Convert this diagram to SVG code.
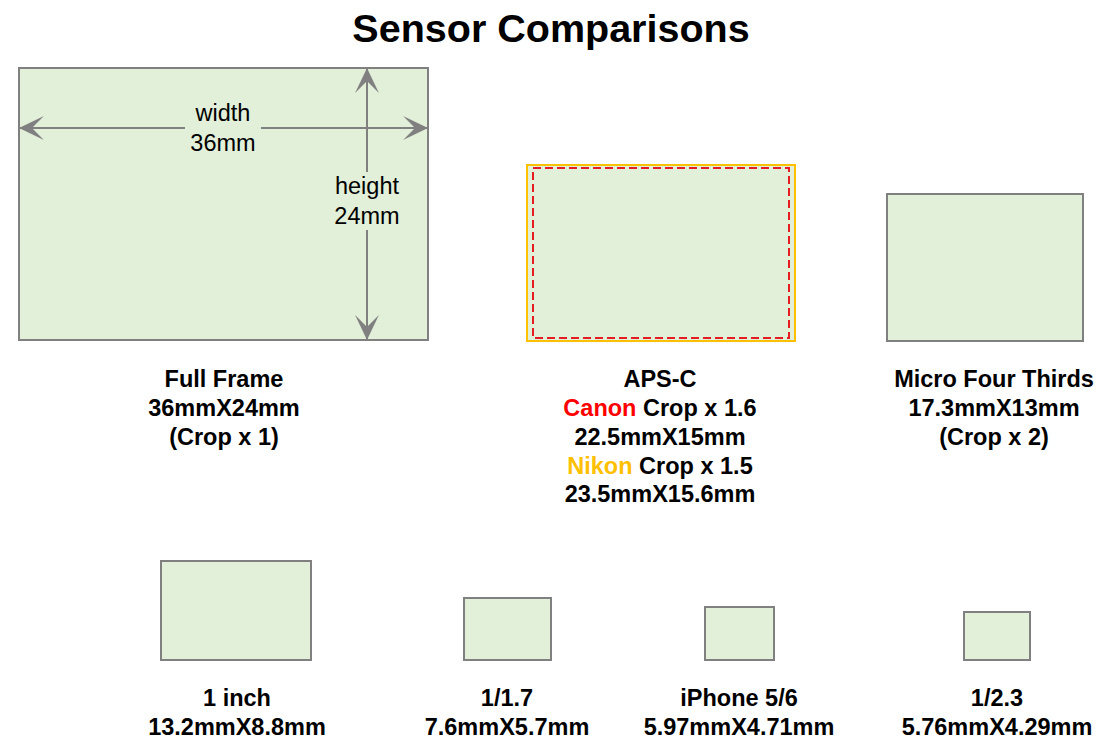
<svg xmlns="http://www.w3.org/2000/svg" width="1110" height="756" viewBox="0 0 1110 756">
<style>
.sensor{fill:#e2efd9;stroke:#808080;stroke-width:2}
.lbl{font-family:"Liberation Sans",Arial,sans-serif;font-size:23.5px;font-weight:bold;fill:#000;text-anchor:middle}
.dim{font-family:"Liberation Sans",Arial,sans-serif;font-size:23.5px;fill:#000;text-anchor:middle}
.title{font-family:"Liberation Sans",Arial,sans-serif;font-size:39.5px;font-weight:bold;fill:#000;text-anchor:middle}
.conn{stroke:#808080;stroke-width:2;fill:none}
</style>
<defs>
<marker id="ah" markerUnits="userSpaceOnUse" markerWidth="26" markerHeight="26" viewBox="0 0 24 24" refX="23" refY="12" orient="auto-start-reverse">
<path d="M23,12 L0,1 L11,12 L0,23 Z" fill="#808080"/>
</marker>
</defs>
<rect width="1110" height="756" fill="#ffffff"/>
<text class="title" x="551" y="42">Sensor Comparisons</text>

<g id="full-frame">
<rect class="sensor" x="19" y="68" width="409" height="272"/>
</g>

<g id="aps-c">
<rect x="527" y="165" width="268" height="176" fill="#e2efd9" stroke="#ffc000" stroke-width="2"/>
<rect x="533" y="168" width="256" height="170" fill="none" stroke="#e51c23" stroke-width="2" stroke-dasharray="8,4"/>
</g>

<g id="micro-four-thirds">
<rect class="sensor" x="887" y="194" width="196" height="147"/>
</g>

<g id="one-inch">
<rect class="sensor" x="161" y="561" width="150" height="99"/>
</g>
<g id="one-1-7">
<rect class="sensor" x="464" y="598" width="87" height="62"/>
</g>
<g id="iphone">
<rect class="sensor" x="705" y="607" width="69" height="53"/>
</g>
<g id="one-2-3">
<rect class="sensor" x="964" y="612" width="66" height="48"/>
</g>

<g id="connectors">
<line class="conn" x1="19" y1="128" x2="428" y2="128" marker-start="url(#ah)" marker-end="url(#ah)"/>
<line class="conn" x1="367" y1="68" x2="367" y2="340" marker-start="url(#ah)" marker-end="url(#ah)"/>
<rect x="185" y="104" width="76" height="52" fill="#e2efd9"/>
<rect x="330" y="172" width="74" height="58" fill="#e2efd9"/>
<text class="dim" x="223" y="121">width</text>
<text class="dim" x="223" y="151">36mm</text>
<text class="dim" x="367" y="194">height</text>
<text class="dim" x="367" y="224">24mm</text>
</g>

<g id="labels">
<text class="lbl" x="224" y="387">Full Frame</text>
<text class="lbl" x="224" y="416">36mmX24mm</text>
<text class="lbl" x="224" y="445">(Crop x 1)</text>

<text class="lbl" x="660" y="387">APS-C</text>
<text class="lbl" x="660" y="416"><tspan fill="#ff0000">Canon</tspan> Crop x 1.6</text>
<text class="lbl" x="660" y="445">22.5mmX15mm</text>
<text class="lbl" x="660" y="474"><tspan fill="#ffc000">Nikon</tspan> Crop x 1.5</text>
<text class="lbl" x="660" y="502">23.5mmX15.6mm</text>

<text class="lbl" x="994" y="387">Micro Four Thirds</text>
<text class="lbl" x="994" y="416">17.3mmX13mm</text>
<text class="lbl" x="994" y="445">(Crop x 2)</text>

<text class="lbl" x="237" y="706">1 inch</text>
<text class="lbl" x="237" y="735">13.2mmX8.8mm</text>
<text class="lbl" x="507" y="706">1/1.7</text>
<text class="lbl" x="507" y="735">7.6mmX5.7mm</text>
<text class="lbl" x="739" y="706">iPhone 5/6</text>
<text class="lbl" x="739" y="735">5.97mmX4.71mm</text>
<text class="lbl" x="997" y="706">1/2.3</text>
<text class="lbl" x="997" y="735">5.76mmX4.29mm</text>
</g>
</svg>
